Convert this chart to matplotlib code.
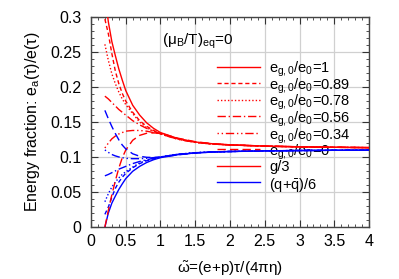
import matplotlib
matplotlib.use("Agg")
import matplotlib.pyplot as plt
from matplotlib.ticker import MultipleLocator, FuncFormatter

plt.rcParams['font.family'] = ['Liberation Sans', 'DejaVu Sans']
plt.rcParams['mathtext.fontset'] = 'custom'
plt.rcParams['mathtext.rm'] = 'Liberation Sans'
plt.rcParams['mathtext.it'] = 'Liberation Sans'
plt.rcParams['mathtext.bf'] = 'Liberation Sans:bold'

# scaled time omega~
omega = [0.2, 0.25, 0.3, 0.35, 0.4, 0.45, 0.5, 0.6, 0.7, 0.8, 0.9, 1.0,
         1.25, 1.5, 1.75, 2.0, 2.5, 3.0, 3.5, 4.0]

ratios = ['1', '0.89', '0.78', '0.56', '0.34', '0']

# gluon fraction g/3 for each initial ratio e_g0/e_0
g_100 = [0.333, 0.293, 0.265, 0.245, 0.226, 0.210, 0.195, 0.174, 0.160, 0.149,
         0.141, 0.135, 0.1265, 0.1215, 0.119, 0.1175, 0.1157, 0.1147, 0.114, 0.1135]
g_089 = [0.297, 0.276, 0.248, 0.223, 0.205, 0.191, 0.180, 0.164, 0.152, 0.144,
         0.138, 0.134, 0.126, 0.1213, 0.1188, 0.1174, 0.1156, 0.1146, 0.114, 0.1135]
g_078 = [0.261, 0.238, 0.219, 0.205, 0.193, 0.183, 0.175, 0.162, 0.150, 0.142,
         0.137, 0.133, 0.1255, 0.121, 0.1186, 0.1173, 0.1156, 0.1146, 0.114, 0.1135]
g_056 = [0.187, 0.183, 0.178, 0.173, 0.168, 0.164, 0.160, 0.152, 0.146, 0.141,
         0.137, 0.133, 0.1255, 0.121, 0.1186, 0.1173, 0.1156, 0.1146, 0.114, 0.1135]
g_034 = [0.113, 0.120, 0.126, 0.130, 0.133, 0.135, 0.137, 0.138, 0.138, 0.137,
         0.135, 0.133, 0.1255, 0.121, 0.1186, 0.1173, 0.1156, 0.1146, 0.114, 0.1135]
g_000 = [0.0, 0.024, 0.046, 0.066, 0.084, 0.099, 0.110, 0.124, 0.131, 0.134,
         0.1345, 0.134, 0.127, 0.122, 0.119, 0.1175, 0.1157, 0.1147, 0.114, 0.1135]

# quark fraction (q+qbar)/6
q_100 = [0.0, 0.0202, 0.0342, 0.0442, 0.0537, 0.0617, 0.0692, 0.0797, 0.0867, 0.0922,
         0.0962, 0.0992, 0.1034, 0.1059, 0.1072, 0.1079, 0.1088, 0.1093, 0.1097, 0.1099]
q_089 = [0.0182, 0.0287, 0.0427, 0.0552, 0.0642, 0.0712, 0.0767, 0.0847, 0.0907, 0.0947,
         0.0977, 0.0997, 0.1037, 0.1060, 0.1073, 0.1080, 0.1089, 0.1094, 0.1097, 0.1099]
q_078 = [0.0362, 0.0477, 0.0572, 0.0642, 0.0702, 0.0752, 0.0792, 0.0857, 0.0917, 0.0957,
         0.0982, 0.1002, 0.1040, 0.1062, 0.1074, 0.1080, 0.1089, 0.1094, 0.1097, 0.1099]
q_056 = [0.0732, 0.0752, 0.0777, 0.0802, 0.0827, 0.0847, 0.0867, 0.0907, 0.0937, 0.0962,
         0.0982, 0.1002, 0.1040, 0.1062, 0.1074, 0.1080, 0.1089, 0.1094, 0.1097, 0.1099]
q_034 = [0.1102, 0.1067, 0.1037, 0.1017, 0.1002, 0.0992, 0.0982, 0.0977, 0.0977, 0.0982,
         0.0992, 0.1002, 0.1040, 0.1062, 0.1074, 0.1080, 0.1089, 0.1094, 0.1097, 0.1099]
q_000 = [0.1667, 0.1547, 0.1437, 0.1337, 0.1247, 0.1172, 0.1117, 0.1047, 0.1012, 0.0997,
         0.0994, 0.0997, 0.1032, 0.1057, 0.1072, 0.1079, 0.1088, 0.1093, 0.1097, 0.1099]

gluon = [g_100, g_089, g_078, g_056, g_034, g_000]
quark = [q_100, q_089, q_078, q_056, q_034, q_000]

styles = ['-', (0, (3, 2)), (0, (1, 1.5)), (0, (6, 2, 1, 2)),
          (0, (1, 2, 1, 2, 6, 2)), (0, (6, 3))]
RED = '#ff0000'
BLUE = '#0000ff'

fig = plt.figure(figsize=(3.99, 2.79), dpi=100)
ax = fig.add_axes([0.228, 0.186, 0.697, 0.753])

for g, q, ls in zip(gluon, quark, styles):
    ax.plot(omega, g, color=RED, ls=ls, lw=1.0, zorder=3)
    ax.plot(omega, q, color=BLUE, ls=ls, lw=1.0, zorder=3)

ax.set_xlim(0, 4)
ax.set_ylim(0, 0.3)
ax.xaxis.set_major_locator(MultipleLocator(0.5))
ax.xaxis.set_minor_locator(MultipleLocator(0.1))
ax.yaxis.set_major_locator(MultipleLocator(0.05))
ax.yaxis.set_minor_locator(MultipleLocator(0.01))
ax.xaxis.set_major_formatter(FuncFormatter(lambda v, p: f'{v:g}'))
ax.yaxis.set_major_formatter(FuncFormatter(lambda v, p: f'{v:g}'))

ax.grid(True, which='major', color='#d0d0d0', lw=0.9, zorder=0)
ax.tick_params(which='both', direction='in', top=True, right=True,
               labelsize=11.5, color='#333333')
ax.tick_params(which='major', length=5, width=0.8)
ax.tick_params(which='minor', length=2.5, width=0.6)
ax.tick_params(axis='y', pad=7)
ax.tick_params(axis='x', pad=5)
for s in ax.spines.values():
    s.set_color('#444444')
    s.set_linewidth(1.0)

ax.set_xlabel(r'$\tilde{\omega}$=(e+p)τ/(4πη)', fontsize=11, labelpad=7)
ax.set_ylabel(r'Energy fraction: e$_{\rm a}$(τ)/e(τ)', fontsize=11.5, labelpad=6)

ax.text(0.254, 0.90, r'(μ$_{\rm B}$/T)$_{\rm eq}$=0', transform=ax.transAxes,
        fontsize=11, ha='left', va='center_baseline', zorder=2)

# key, drawn by hand so rows are evenly spaced
labels = [r'e$_{\rm g,0}$/e$_0$=' + r for r in ratios] + ['g/3', r'(q+$\bar{\rm q}$)/6']
key_styles = styles + ['-', '-']
key_colors = [RED] * 7 + [BLUE]
y0, dy = 0.764, 0.0786
for i, (lab, ls, c) in enumerate(zip(labels, key_styles, key_colors)):
    y = y0 - i * dy
    ax.plot([0.452, 0.608], [y, y], transform=ax.transAxes, color=c, ls=ls,
            lw=1.0, zorder=3)
    ax.text(0.640, y, lab, transform=ax.transAxes, fontsize=10.5, ha='left',
            va='center_baseline', zorder=2)

fig.savefig('out.png', dpi=100)
